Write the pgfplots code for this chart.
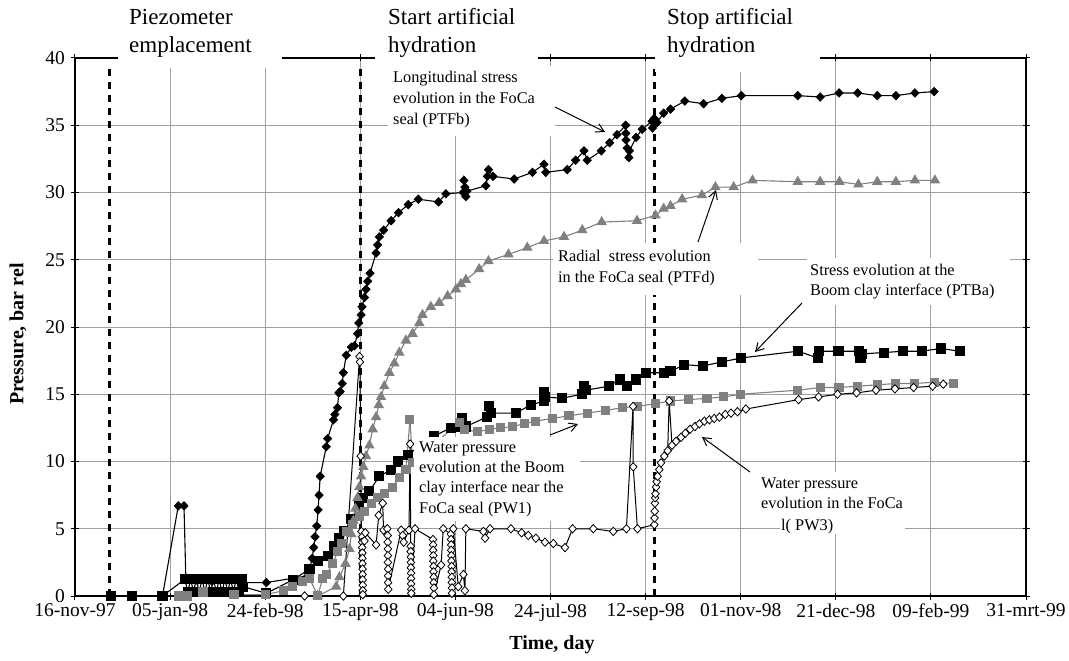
\documentclass[border=0pt]{standalone}
\usepackage{fontspec}
\setmainfont{Liberation Serif}
\usepackage{pgfplots}
\pgfplotsset{compat=1.18}
\usetikzlibrary{arrows.meta}
\definecolor{midgray}{RGB}{128,128,128}
\definecolor{gridgray}{RGB}{160,160,160}

\begin{document}
\begin{tikzpicture}
\begin{axis}[
  scale only axis, width=951bp, height=538bp,
  xmin=0, xmax=500, ymin=0, ymax=40,
  xtick={0,50,...,500},
  xticklabels={16-nov-97,05-jan-98,24-feb-98,15-apr-98,04-jun-98,24-jul-98,12-sep-98,01-nov-98,21-dec-98,09-feb-99,31-mrt-99},
  ytick={0,5,...,40},
  grid=major,
  major grid style={gridgray, line width=0.9bp},
  axis line style={black, line width=1.3bp},
  tick style={black, line width=1bp},
  tick align=center, major tick length=7bp,
  tick label style={font=\fontsize{19.5bp}{22bp}\selectfont},
  yticklabel style={xshift=-3bp},
  xticklabel style={yshift=-1bp},
  /pgf/number format/assume math mode=true,
  clip=false,
  every axis plot/.append style={line width=1.1bp},
]
% Longitudinal stress, FoCa seal (PTFb)
\addplot[black, mark=diamond*, mark size=4.3bp, mark options={solid, fill=black, line width=0.6bp, xscale=1.3}] coordinates {
(18.7,0)(29.9,0)(46.0,0)(54.3,6.7)(57.3,6.7)(58.3,1.2)(64,1.2)(72,1.1)(80,1.2)(87.5,1.0)
(100.6,1.0)(122.5,1.5)(123.3,2.0)(124.7,2.8)(125.5,3.6)(126.2,4.4)(127.1,5.2)(127.8,6.4)
(128.3,7.5)(128.9,8.9)(132.1,11.1)(132.8,11.7)(135.9,13.1)(136.6,13.5)(138.0,14.0)(138.7,15.1)
(139.4,15.2)(140.5,15.8)(141.1,16.6)(142.6,17.9)(145.3,18.5)(146.9,18.6)(148.6,19.5)(149.2,20.3)
(150.4,20.9)(150.9,21.5)(152.2,22.2)(153.0,22.8)(153.9,23.4)(155.1,24.0)(158.3,25.5)(159.1,26.1)
(160.0,26.7)(162.3,27.2)(166.2,27.9)(170.1,28.5)(175.2,29.1)(180.5,29.5)(191.1,29.3)(195.0,29.9)
(204.1,30.0)(204.5,30.9)(205.0,30.4)(205.5,29.7)(206.0,30.1)(216.0,30.5)(216.8,31.2)(217.4,31.7)
(219.8,31.2)(230.9,31.0)(240.5,31.5)(246.6,32.1)(247.5,31.5)(258.8,31.7)(263.2,32.4)(267.6,33.1)
(269.3,32.4)(276.7,33.1)(281.1,33.7)(285.0,34.3)(289.5,35.0)(289.6,34.4)(289.7,33.9)(290.3,33.3)
(291.2,32.6)(291.5,33.1)(295.0,34.1)(298.2,34.7)(303.4,35.3)(303.6,34.8)(304.5,35.5)(306.0,35.2)
(309.5,35.9)(313.1,36.2)(320.6,36.8)(330.5,36.6)(340.1,37.0)(350.3,37.2)(380.0,37.2)(391.8,37.1)
(401.7,37.4)(411.5,37.4)(421.8,37.2)(431.6,37.2)(441.6,37.4)(451.7,37.5)
};
% Stress at the Boom clay interface (PTBa)
\addplot[black, mark=square*, mark size=4.5bp, mark options={solid, fill=black}] coordinates {
(18.7,0)(29.9,0)(46.0,0)(57.8,1.25)(59.3,0.3)(60.8,1.25)(62.3,0.3)(63.8,1.25)(65.3,0.3)(66.8,1.25)
(68.3,0.3)(69.8,1.25)(71.3,0.3)(72.8,1.25)(74.3,0.3)(75.8,1.25)(77.3,0.3)(78.8,1.25)(80.3,0.3)
(81.8,1.25)(83.3,0.3)(84.8,1.25)(86.3,0.3)(87.8,1.25)(88.3,0.7)(100.6,0.2)(114.5,1.2)(123.3,2.0)
(127.6,2.6)(132.9,3.0)(136.4,3.7)(139.0,4.3)(141.7,4.8)(145.2,5.7)(149.5,6.8)(151.6,7.3)(154.8,7.8)
(160.0,8.9)(166.2,9.4)(169.6,10.0)(174.9,10.5)(188.9,11.9)(197.6,12.5)(202.8,12.6)(203.7,13.2)
(205.5,12.6)(216.5,13.3)(217.7,14.1)(218.5,13.6)(231.7,13.6)(239.6,14.2)(246.6,14.5)(246.8,15.2)
(247.2,14.8)(255.9,14.7)(266.5,15.0)(267.6,15.6)(268.5,15.3)(280.7,15.6)(286.3,16.1)(290.3,15.6)
(295.0,16.1)(300.0,16.6)(309.5,16.6)(313.1,16.7)(320.4,17.2)(330.0,17.1)(340.1,17.4)(350.3,17.7)
(380.0,18.2)(390.5,17.7)(391.0,18.2)(401.4,18.2)(412.0,18.2)(413.0,17.7)(413.5,18.0)(425.3,18.1)
(435.5,18.2)(445.1,18.2)(455.2,18.4)(465.2,18.2)
};
% Radial stress, FoCa seal (PTFd)
\addplot[midgray, mark=triangle*, mark size=5bp, mark options={solid, fill=midgray}] coordinates {
(127.6,0.0)(137.3,0.7)(139.0,1.4)(142.2,2.4)(144.3,3.5)(145.3,4.6)(146.4,5.6)(147.4,6.5)(148.5,7.3)
(149.5,8.1)(150.4,8.9)(151.6,9.6)(153.0,10.4)(154.8,11.2)(156.5,12.4)(158.3,13.3)(159.7,14.2)
(160.9,14.8)(162.6,15.6)(165.3,16.6)(167.9,17.3)(170.5,18.1)(174.0,19.0)(177.5,19.5)(181.0,20.3)
(182.7,20.9)(187.1,21.5)(191.5,21.8)(195.9,22.3)(200.3,22.8)(202.9,23.2)(205.5,23.5)(212.5,24.3)
(217.4,24.9)(227.9,25.4)(237.8,25.9)(246.6,26.4)(257.1,26.7)(266.7,27.2)(276.9,27.8)(295.5,27.9)
(305.2,28.3)(309.5,28.8)(313.1,29.0)(319.2,29.5)(329.6,29.8)(336.7,30.4)(346.3,30.4)(356.2,30.9)
(380.0,30.8)(391.8,30.8)(401.9,30.8)(411.9,30.6)(421.8,30.8)(431.6,30.8)(441.6,30.9)(452.1,30.9)
};
% Water pressure at the Boom clay interface (PW1)
\addplot[midgray, mark=square*, mark size=4bp, mark options={solid, fill=midgray}] coordinates {
(54.6,0)(59.1,0)(67.3,0.3)(83.6,0.1)(100.2,0.1)(109.7,0.4)(114.5,0.7)(119.8,1.1)(123.3,1.3)
(127.6,0.05)(130.3,1.3)(132.1,1.6)(135.5,2.4)(138.1,3.3)(139.9,3.9)(142.6,4.8)(146.0,5.3)(149.5,5.9)
(152.2,6.3)(155.7,6.9)(159.1,7.3)(162.6,7.6)(167.0,8.1)(170.5,8.8)(174.0,9.4)(176.1,13.1)(177.5,9.9)
(202.0,12.9)(204.6,12.4)(211.6,12.2)(217.7,12.4)(223.9,12.5)(230.0,12.6)(236.1,12.8)(242.2,13.0)
(251.0,13.2)(259.7,13.4)(269.3,13.6)(279.0,13.8)(287.7,14.0)(295.5,14.1)(305.2,14.3)(313.1,14.5)
(322.7,14.6)(332.3,14.7)(341.0,14.8)(349.8,15.0)(380.0,15.3)(391.8,15.5)(401.7,15.5)(411.5,15.6)
(421.8,15.7)(431.6,15.8)(441.6,15.8)(451.7,15.9)(461.7,15.8)
};
% Water pressure in the FoCa seal (PW3)
\addplot[black, line width=1bp, mark=diamond*, mark size=4.2bp, mark options={solid, fill=white, draw=black, line width=0.8bp, xscale=1.2}] coordinates {
(120.7,0)(141.1,0)(149.6,17.8)(149.8,17.4)(150.2,10.4)(150.6,4.8)
(151.0,4.4)(151.0,4.0)(151.0,3.6)(151.1,3.2)(151.1,2.8)(151.1,2.4)(151.2,2.0)(151.2,1.6)(151.2,1.2)
(151.3,0.8)(151.3,0.4)(151.3,0.1)
(152.2,4.1)(152.6,4.7)(158.3,3.8)(159.7,6.0)(161.8,6.9)(162.2,4.9)(164.2,5.0)
(164.4,4.5)(164.4,4.0)(164.5,3.5)(164.5,3.0)(164.5,2.5)(164.6,2.0)(164.6,1.5)(164.6,1.0)(164.7,0.5)
(171.5,4.9)(172.3,4.5)(172.8,4.0)(175.6,4.9)(176.2,11.3)
(176.5,3.7)(176.5,3.3)(176.6,2.9)(176.6,2.5)(176.6,2.1)(176.7,1.7)(176.7,1.3)(176.7,0.9)(176.8,0.5)(176.8,0.2)
(178.8,5.0)(188.2,4.2)
(188.3,3.8)(188.3,3.4)(188.4,3.0)(188.4,2.6)(188.5,2.2)(188.5,1.8)(188.6,1.4)(188.6,1.0)(188.7,0.6)(188.7,0.1)
(192.5,2.3)(193.6,5.0)(197.6,4.6)
(197.7,4.2)(197.8,3.8)(197.8,3.4)(197.9,3.0)(197.9,2.6)(198.0,2.2)(198.0,1.8)(198.1,1.4)(198.1,1.0)(198.2,0.6)(198.2,0.2)
(198.9,5.0)(201.5,0.7)(204.2,1.6)(205.0,0.4)(205.5,5.0)
(214.7,4.8)(215.6,4.3)(218.2,5.0)(229.2,5.0)(234.8,4.7)(238.3,4.5)(242.3,4.3)(247.1,4.0)(251.5,3.9)
(257.6,3.6)(261.6,5.0)(272.5,5.0)(283.0,4.8)(289.9,5.0)(293.4,14.1)(293.5,9.6)(295.7,5.0)
(304.6,5.3)(304.7,5.8)(304.8,6.3)(304.9,6.9)(305.0,7.3)(305.2,7.6)(305.5,8.1)(305.8,8.5)(306.3,8.9)
(307.2,9.4)(308.1,9.9)(309.8,10.4)(311.6,10.8)(312.4,14.5)(313.9,11.2)(316.0,11.5)(318.6,11.8)
(320.9,12.1)(323.4,12.4)(326.0,12.6)(328.3,12.8)(330.9,13.0)(333.5,13.1)(336.1,13.2)(338.8,13.3)
(341.9,13.5)(344.9,13.6)(348.3,13.7)(352.7,13.9)(380.4,14.6)(390.9,14.8)(400.9,15.0)(410.9,15.1)
(421.1,15.3)(431.1,15.4)(440.9,15.5)(450.9,15.6)(456.5,15.75)
};
% event markers: piezometer emplacement, start and stop of hydration
\addplot[black, line width=3bp, dash pattern=on 7bp off 6bp, mark=none] coordinates {(18,0)(18,39.5)};
\addplot[black, line width=3bp, dash pattern=on 7bp off 6bp, mark=none] coordinates {(150,0)(150,39.5)};
\addplot[black, line width=3bp, dash pattern=on 7bp off 6bp, mark=none] coordinates {(304.5,0)(304.5,39.5)};
\end{axis}

\begin{scope}[x=1bp, y=-1bp, shift={(-75bp,596bp)}]
\path[use as bounding box] (0,0) rectangle (1069,661);
% headings above the plot area
\fill[white] (118,0) rectangle (282,68);
\fill[white] (375,0) rectangle (538,68);
\fill[white] (655,0) rectangle (820,72);
\begin{scope}[every node/.style={anchor=base west, inner sep=0, font=\fontsize{23bp}{28bp}\selectfont}]
\node at (129,25) {Piezometer};
\node at (129,53) {emplacement};
\node at (388,25) {Start artificial};
\node at (388,53) {hydration};
\node at (667,25) {Stop artificial};
\node at (667,53) {hydration};
\end{scope}
% series annotations
\fill[white] (388,66) rectangle (555,136);
\fill[white] (553,243) rectangle (758,295);
\fill[white] (807,258) rectangle (1010,305);
\fill[white] (414,437) rectangle (580,521);
\fill[white] (780,472) rectangle (905,534);
\begin{scope}[every node/.style={anchor=base west, inner sep=0, font=\fontsize{16.3bp}{20bp}\selectfont}]
\node at (393,83) {Longitudinal stress};
\node at (393,104) {evolution in the FoCa};
\node at (393,125) {seal (PTFb)};
\node at (558,262) {Radial\ \ stress evolution};
\node at (558,283) {in the FoCa seal (PTFd)};
\node at (810,276) {Stress evolution at the};
\node at (810,296) {Boom clay interface (PTBa)};
\node at (419,453) {Water pressure};
\node at (419,473) {evolution at the Boom};
\node at (419,493) {clay interface near the};
\node at (419,514) {FoCa seal (PW1)};
\node at (761,489) {Water pressure};
\node at (761,509) {evolution in the FoCa};
\node at (781,531) {l( PW3)};
\end{scope}
\begin{scope}[line width=1bp, -{Straight Barb[length=8bp,width=9bp]}]
\draw (555,107) -- (605,132);
\draw (698,242) -- (716,190);
\draw (802,303) -- (755,352);
\draw (550,435) -- (578,424);
\draw (750,472) -- (702,437);
\end{scope}
% axis titles
\node[font=\bfseries\fontsize{20bp}{24bp}\selectfont, rotate=90] at (18,334) {Pressure, bar rel};
\node[font=\bfseries\fontsize{20bp}{24bp}\selectfont] at (552,645) {Time, day};
\end{scope}
\end{tikzpicture}
\end{document}
